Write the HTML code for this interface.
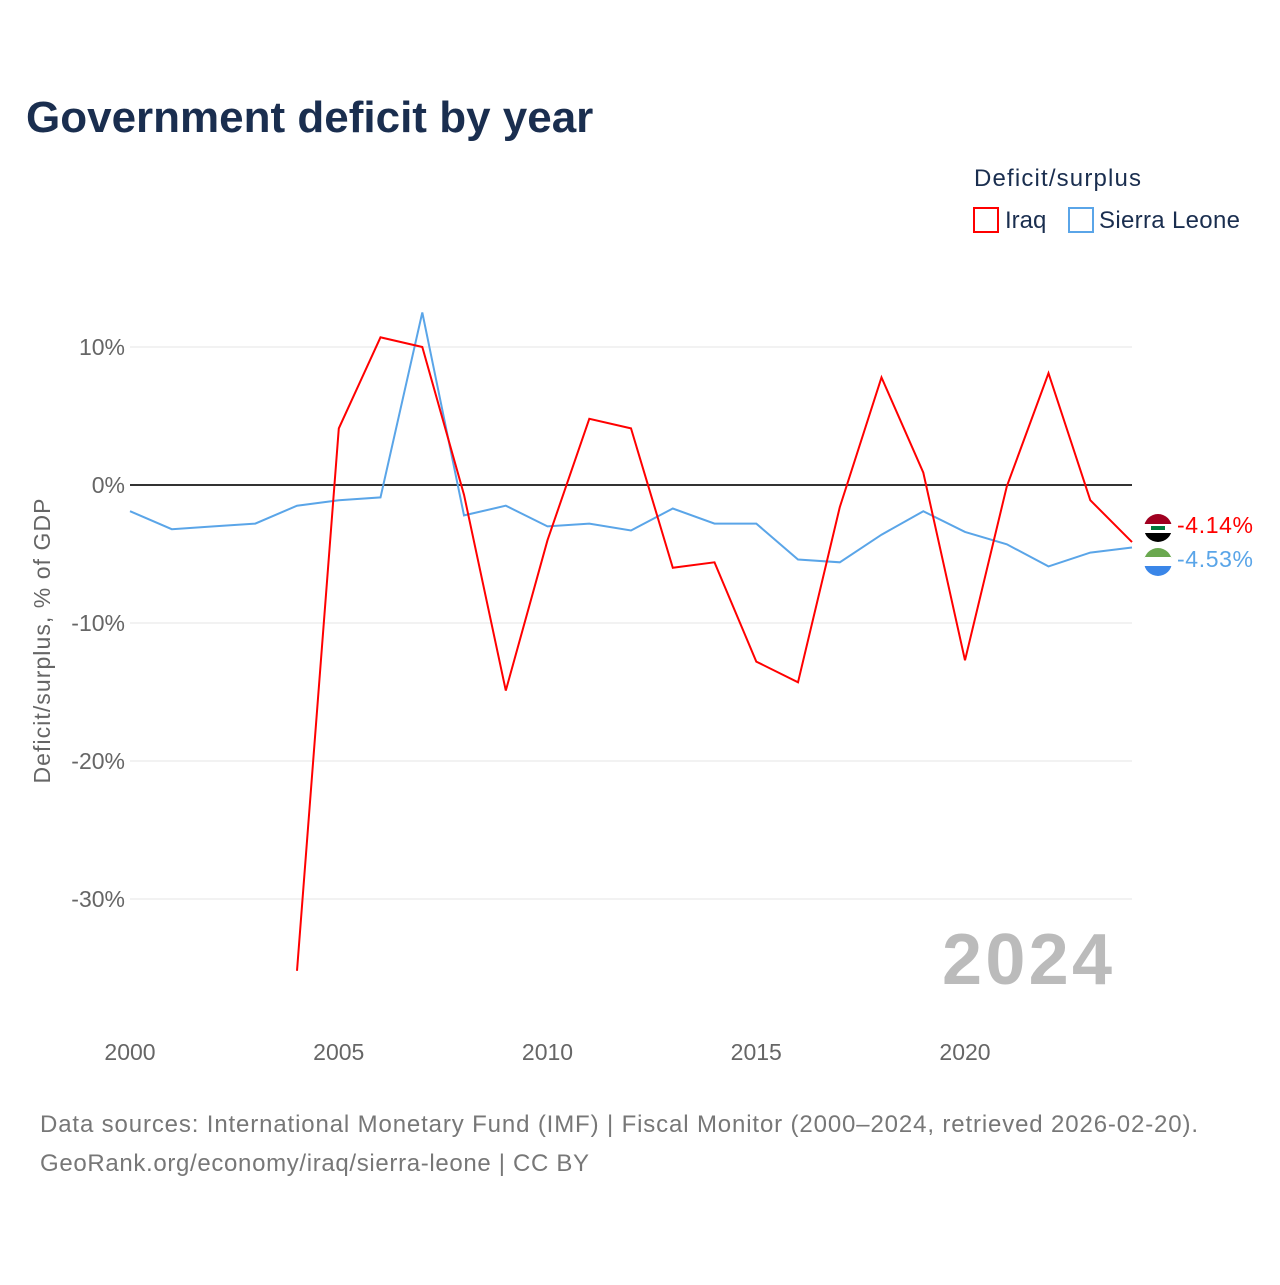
<!DOCTYPE html>
<html><head><meta charset="utf-8">
<style>
body{margin:0;background:#fff;font-family:"Liberation Sans",sans-serif;}
svg text{font-family:"Liberation Sans",sans-serif;}
</style></head>
<body>
<svg width="1280" height="1280" viewBox="0 0 1280 1280" xmlns="http://www.w3.org/2000/svg">
<text x="26" y="132" font-size="44" font-weight="bold" fill="#1a2e4f">Government deficit by year</text>
<text x="974" y="186" font-size="24" fill="#1a2e4f" textLength="167">Deficit/surplus</text>
<g><rect x="974" y="208" width="24" height="24" fill="none" stroke="#f00" stroke-width="2"/><text x="1005" y="228" font-size="24" fill="#1a2e4f">Iraq</text></g>
<g><rect x="1069" y="208" width="24" height="24" fill="none" stroke="#5aa5e8" stroke-width="2"/><text x="1099" y="228" font-size="24" fill="#1a2e4f" textLength="141">Sierra Leone</text></g>
<g id="grid"></g>
<text x="50" y="641" font-size="23" fill="#666" transform="rotate(-90 50 641)" text-anchor="middle" textLength="285">Deficit/surplus, % of GDP</text>
<text x="1112" y="984" font-size="72" font-weight="bold" fill="#bbb" text-anchor="end" textLength="170">2024</text>
<g id="series"></g>
<g><clipPath id="c1"><circle cx="1158" cy="528" r="14"/></clipPath><g clip-path="url(#c1)"><rect x="1144" y="514" width="28" height="10" fill="#a00020"/><rect x="1144" y="524" width="28" height="9" fill="#fff"/><rect x="1144" y="533" width="28" height="10" fill="#000"/><rect x="1151" y="526" width="14" height="4" fill="#007a3d"/></g></g>
<g><clipPath id="c2"><circle cx="1158" cy="562" r="14"/></clipPath><g clip-path="url(#c2)"><rect x="1144" y="548" width="28" height="10" fill="#6aa84f"/><rect x="1144" y="557" width="28" height="9" fill="#fff"/><rect x="1144" y="566" width="28" height="10" fill="#3a86e8"/></g></g>
<text x="1177" y="533" font-size="23" fill="#f00" textLength="76">-4.14%</text>
<text x="1177" y="567" font-size="23" fill="#5aa5e8" textLength="76">-4.53%</text>
<text x="40" y="1132" font-size="24" fill="#777" textLength="1158">Data sources: International Monetary Fund (IMF) | Fiscal Monitor (2000–2024, retrieved 2026-02-20).</text>
<text x="40" y="1171" font-size="24" fill="#777" textLength="549">GeoRank.org/economy/iraq/sierra-leone | CC BY</text>
</svg>
<script>
const years=[2000,2001,2002,2003,2004,2005,2006,2007,2008,2009,2010,2011,2012,2013,2014,2015,2016,2017,2018,2019,2020,2021,2022,2023,2024];
const iraq=[null,null,null,null,-35.2,4.1,10.7,10.0,-0.7,-14.9,-4.0,4.8,4.1,-6.0,-5.6,-12.8,-14.3,-1.6,7.8,0.9,-12.7,-0.1,8.1,-1.1,-4.14];
const sierraLeone=[-1.9,-3.2,-3.0,-2.8,-1.5,-1.1,-0.9,12.5,-2.2,-1.5,-3.0,-2.8,-3.3,-1.7,-2.8,-2.8,-5.4,-5.6,-3.6,-1.9,-3.4,-4.3,-5.9,-4.9,-4.53];
const yTicks=[10,0,-10,-20,-30];
const xTicks=[2000,2005,2010,2015,2020];
const NS="http://www.w3.org/2000/svg";
const X=y=>130+(y-2000)*(1002/24);
const Y=v=>485-v*13.8;
const grid=document.getElementById('grid');
yTicks.forEach(t=>{
 const l=document.createElementNS(NS,'line');
 l.setAttribute('x1',130);l.setAttribute('x2',1132);l.setAttribute('y1',Y(t));l.setAttribute('y2',Y(t));
 l.setAttribute('stroke',t===0?'#333':'#e6e6e6');l.setAttribute('stroke-width',t===0?2:1);
 
 
 grid.appendChild(l);
 const tx=document.createElementNS(NS,'text');
 tx.setAttribute('x',125);tx.setAttribute('y',Y(t)+8);tx.setAttribute('text-anchor','end');
 tx.setAttribute('font-size','23');tx.setAttribute('fill','#666');tx.textContent=t+'%';
 
 
 grid.appendChild(tx);
});
xTicks.forEach(t=>{
 const tx=document.createElementNS(NS,'text');
 tx.setAttribute('x',X(t));tx.setAttribute('y',1060);tx.setAttribute('text-anchor','middle');
 tx.setAttribute('font-size','23');tx.setAttribute('fill','#666');tx.textContent=t;
 
 
 grid.appendChild(tx);
});
const ser=document.getElementById('series');
function draw(vals,color,name){
 let d='';vals.forEach((v,i)=>{if(v===null)return;d+=(d?'L':'M')+X(years[i]).toFixed(1)+','+Y(v).toFixed(1);});
 const p=document.createElementNS(NS,'path');
 p.setAttribute('d',d);p.setAttribute('fill','none');p.setAttribute('stroke',color);p.setAttribute('stroke-width','2');
 
 
 ser.appendChild(p);
}
draw(sierraLeone,'#5aa5e8','sierra-leone-line');
draw(iraq,'#f00','iraq-line');
</script>
</body></html>
